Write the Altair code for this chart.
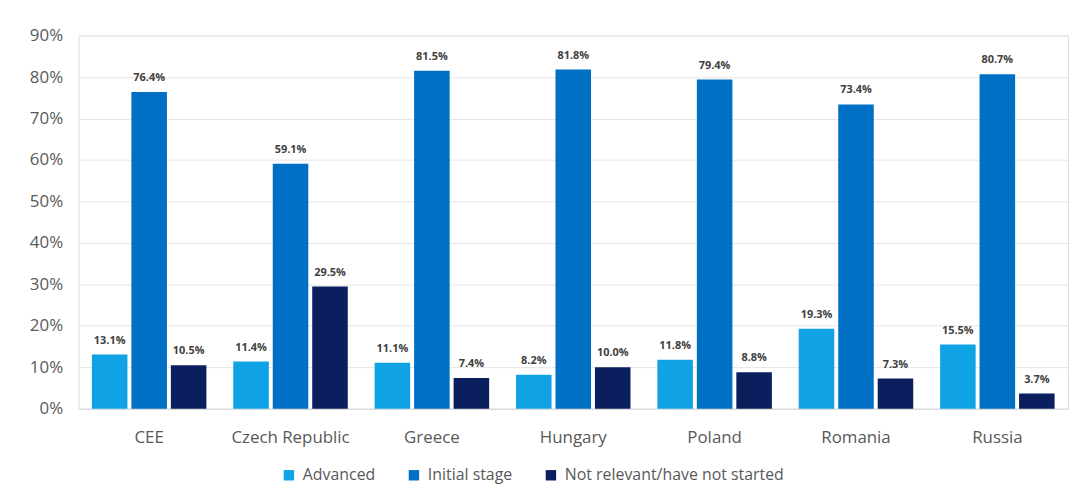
import altair as alt
import pandas as pd

countries = ["CEE", "Czech Republic", "Greece", "Hungary", "Poland", "Romania", "Russia"]
series = ["Advanced", "Initial stage", "Not relevant/have not started"]
advanced = [13.1, 11.4, 11.1, 8.2, 11.8, 19.3, 15.5]
initial = [76.4, 59.1, 81.5, 81.8, 79.4, 73.4, 80.7]
not_started = [10.5, 29.5, 7.4, 10.0, 8.8, 7.3, 3.7]
colors = ["#0FA3E6", "#0070C4", "#0B1F5E"]

rows = []
for i, c in enumerate(countries):
    for s, vals in zip(series, [advanced, initial, not_started]):
        rows.append({"country": c, "series": s, "value": vals[i]})
df = pd.DataFrame(rows)
df["label"] = df["value"].map(lambda v: f"{v:.1f}%")

FONT = "Open Sans"

base = alt.Chart(df).encode(
    x=alt.X("country:N", sort=countries, title=None,
            scale=alt.Scale(paddingInner=0.19, paddingOuter=0.095),
            axis=alt.Axis(labelAngle=0, labelFontSize=17, labelColor="#595959",
                          labelFont=FONT, labelPadding=21, ticks=False,
                          domainColor="#d9d9d9", grid=False)),
    xOffset=alt.XOffset("series:N", sort=series, scale=alt.Scale(paddingInner=0.1)),
)

bars = base.mark_bar().encode(
    y=alt.Y("value:Q", title=None,
            scale=alt.Scale(domain=[0, 90]),
            axis=alt.Axis(values=list(range(0, 91, 10)), labelExpr="datum.value + '%'",
                          labelFontSize=17, labelColor="#595959", labelFont=FONT,
                          labelPadding=16, ticks=False, domain=False,
                          gridColor="#e6e6e6")),
    color=alt.Color("series:N", sort=series,
                    scale=alt.Scale(domain=series, range=colors),
                    legend=alt.Legend(title=None, orient="none", direction="horizontal",
                                      legendX=204, legendY=435, symbolType="square",
                                      symbolSize=110, symbolStrokeWidth=0,
                                      labelFontSize=16, labelColor="#595959",
                                      labelFont=FONT, columnPadding=30, labelOffset=6,
                                      labelLimit=0, padding=0)),
)

labels = base.mark_text(baseline="bottom", dy=-9, fontSize=11, fontWeight="bold",
                        color="#404040", font=FONT).encode(
    y=alt.Y("value:Q"),
    text="label:N",
)

chart = (bars + labels).properties(
    width=997, height=376,
    autosize=alt.AutoSizeParams(type="none"),
    padding={"left": 71, "top": 26, "right": 5, "bottom": 74},
).configure_view(stroke=None).configure(background="white")

chart.save("out.html", embed_options={"renderer": "svg", "actions": False})
